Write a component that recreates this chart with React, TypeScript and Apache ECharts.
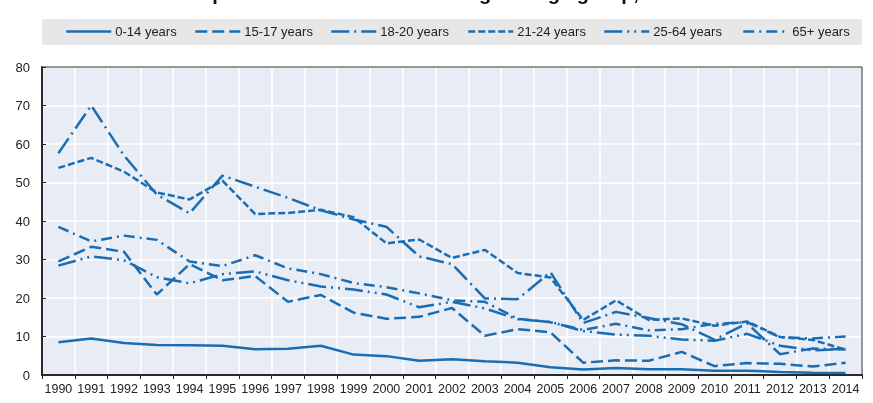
import React, { useEffect, useRef } from "react";
import * as echarts from "echarts";

const years = [
  "1990", "1991", "1992", "1993", "1994", "1995", "1996", "1997", "1998", "1999",
  "2000", "2001", "2002", "2003", "2004", "2005", "2006", "2007", "2008", "2009",
  "2010", "2011", "2012", "2013", "2014",
];

const age0to14 = [8.5, 9.5, 8.3, 7.8, 7.7, 7.6, 6.7, 6.8, 7.6, 5.3, 4.9, 3.7, 4.1, 3.6, 3.2, 2.0, 1.4, 1.8, 1.5, 1.5, 1.1, 1.1, 0.8, 0.6, 0.5];
const age15to17 = [29.5, 33.3, 32.0, 20.9, 28.8, 24.6, 25.7, 19.0, 20.8, 16.2, 14.6, 15.1, 17.4, 10.2, 11.9, 11.1, 3.2, 3.8, 3.7, 6.0, 2.3, 3.1, 2.9, 2.2, 3.2];
const age18to20 = [57.6, 70.0, 57.0, 46.9, 42.0, 51.8, 48.9, 46.0, 42.8, 40.4, 38.5, 30.8, 28.8, 19.9, 19.7, 26.7, 13.5, 16.4, 14.8, 13.2, 9.2, 13.4, 5.4, 6.9, 6.6];
const age21to24 = [53.8, 56.4, 52.8, 47.4, 45.6, 50.5, 41.8, 42.1, 42.9, 41.0, 34.2, 35.2, 30.4, 32.5, 26.5, 25.3, 14.3, 19.4, 14.3, 14.7, 12.8, 13.9, 9.9, 9.1, 6.6];
const age25to64 = [28.4, 30.8, 29.8, 25.4, 23.8, 26.2, 26.9, 24.6, 23.0, 22.2, 20.9, 17.6, 19.0, 17.3, 14.5, 13.8, 11.4, 10.5, 10.2, 9.2, 8.9, 10.7, 7.6, 6.4, 6.8];
const age65plus = [38.5, 34.7, 36.2, 35.1, 29.5, 28.3, 31.1, 27.7, 26.2, 23.9, 22.8, 21.2, 19.4, 19.0, 14.6, 13.7, 11.7, 13.3, 11.6, 11.9, 13.3, 13.7, 9.8, 9.5, 10.0];

const seriesNames = ["0-14 years", "15-17 years", "18-20 years", "21-24 years", "25-64 years", "65+ years"];
const seriesData = [age0to14, age15to17, age18to20, age21to24, age25to64, age65plus];

const titleText = "Fatalities per 100 000 inhabitants in a given age group, 1990-2014";

const BLUE = "#1a6db3";
const FONT = "'Liberation Sans', Arial, sans-serif";
const dashes: any[] = ["solid", [12, 5], [18, 5, 2, 5], [7, 3], [18, 5, 2, 5, 2, 5], [11, 5, 2, 5]];
const legendLefts = [65, 194, 330, 467, 603, 742];

export default function App() {
  const ref = useRef<HTMLDivElement>(null);
  useEffect(() => {
    if (!ref.current) return;
    const chart = echarts.init(ref.current, undefined, { renderer: "svg" });
    const option: any = {
      animation: false,
      graphic: [
        {
          type: "text",
          x: 430,
          y: -7,
          silent: true,
          style: {
            text: titleText,
            font: "bold 20px 'Liberation Sans', Arial, sans-serif",
            fill: "#111",
            align: "center",
            verticalAlign: "middle",
          },
        },
        {
          type: "rect",
          silent: true,
          z: -10,
          shape: { x: 42, y: 19, width: 820, height: 26 },
          style: { fill: "#e7e7e7" },
        },
        {
          type: "rect",
          silent: true,
          z: 100,
          shape: { x: 42, y: 67, width: 820, height: 308 },
          style: { fill: "none", stroke: "#333", lineWidth: 1 },
        },
      ],
      legend: seriesNames.map((n, i) => ({
        data: [n],
        left: legendLefts[i],
        top: 25,
        itemWidth: 45,
        itemHeight: 14,
        itemGap: 0,
        padding: 0,
        selectedMode: false,
        lineStyle: { width: 2.5 },
        itemStyle: { opacity: 0, borderWidth: 0 },
        textStyle: { fontSize: 13, color: "#222", fontFamily: FONT, padding: [0, 0, 0, -1] },
      })),
      grid: {
        left: 42,
        top: 67,
        width: 820,
        height: 308,
        show: true,
        backgroundColor: "#e8edf5",
        borderWidth: 0,
      },
      xAxis: {
        type: "category",
        data: years,
        boundaryGap: true,
        axisLine: { lineStyle: { color: "#222", width: 2 } },
        axisTick: { show: true, length: 4, lineStyle: { color: "#222", width: 1 } },
        axisLabel: { interval: 0, fontSize: 12.5, color: "#222", margin: 7, fontFamily: FONT },
        splitLine: { show: true, lineStyle: { color: "#ffffff", width: 1.5 } },
      },
      yAxis: {
        type: "value",
        min: 0,
        max: 80,
        interval: 10,
        axisLine: { show: true, lineStyle: { color: "#222", width: 2 } },
        axisTick: { show: true, inside: true, length: 4, lineStyle: { color: "#222", width: 1 } },
        axisLabel: { fontSize: 13, color: "#222", margin: 12, fontFamily: FONT },
        splitLine: { show: true, lineStyle: { color: "#ffffff", width: 1.5 } },
      },
      series: seriesNames.map((n, i) => ({
        name: n,
        type: "line",
        data: seriesData[i],
        symbol: "none",
        emphasis: { disabled: true },
        lineStyle: { color: BLUE, width: 2.5, type: dashes[i], cap: "butt" },
        itemStyle: { color: BLUE },
      })),
    };
    chart.setOption(option);
    return () => chart.dispose();
  }, []);
  return (
    <div
      ref={ref}
      style={{ position: "fixed", left: 0, top: 0, width: 873, height: 403 }}
    />
  );
}
